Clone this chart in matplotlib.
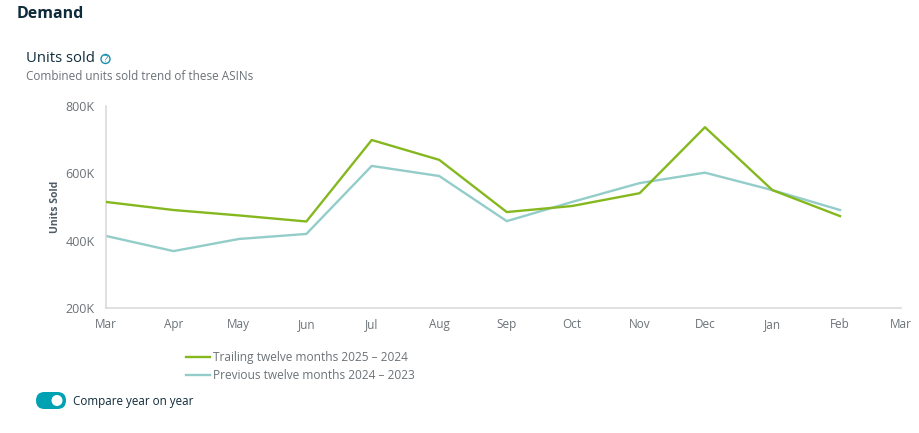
import matplotlib
matplotlib.use('Agg')
import matplotlib.pyplot as plt
import matplotlib.dates as mdates
from matplotlib.patches import Circle, FancyBboxPatch
import pandas as pd

plt.rcParams['font.family'] = ['Open Sans', 'DejaVu Sans']

W, H = 920, 433
green = '#85b81f'
teal = '#93cdc9'
grey = '#6b7277'
dark = '#0f2b3a'
toggle_color = '#00a1b3'

dates = pd.date_range('2024-03-01', periods=12, freq='MS')
trailing = [515, 491, 475, 457, 699, 640, 485, 503, 541, 737, 550, 473]
previous = [414, 369, 405, 420, 622, 592, 458, 515, 571, 602, 550, 491]
y_ticks = [200, 400, 600, 800]
y_labels = ['200K', '400K', '600K', '800K']

fig = plt.figure(figsize=(W / 100, H / 100), dpi=100)

# axes box in pixels: left 106, right 901, top 106, bottom 308
ax = fig.add_axes([106 / W, 1 - 308 / H, (901 - 106) / W, (308 - 106) / H])
ax.plot(dates, trailing, color=green, lw=1.7, label='Trailing twelve months 2025 – 2024', zorder=3)
ax.plot(dates, previous, color=teal, lw=1.7, label='Previous twelve months 2024 – 2023', zorder=2)

ax.set_xlim(pd.Timestamp('2024-03-01'), pd.Timestamp('2025-03-01'))
ax.set_ylim(200, 800)
ax.xaxis.set_major_locator(mdates.MonthLocator())
ax.xaxis.set_major_formatter(mdates.DateFormatter('%b'))
ax.set_yticks(y_ticks, y_labels)
ax.tick_params(length=0, labelcolor=grey)
ax.tick_params(axis='x', pad=7, labelsize=8.5)
ax.tick_params(axis='y', pad=8, labelsize=9)
ax.set_ylabel('Units Sold', fontsize=7.5, fontweight='bold', color='#4d5b66', labelpad=3)
for side in ['top', 'right']:
    ax.spines[side].set_visible(False)
for side in ['left', 'bottom']:
    ax.spines[side].set_color('#d5d7d9')
    ax.spines[side].set_linewidth(1.1)

ax.legend(loc='upper left', bbox_to_anchor=(186 / W, 1 - 351 / H), bbox_transform=fig.transFigure,
          frameon=False, fontsize=8.6, labelcolor=grey, handlelength=2.0, handletextpad=0.3,
          labelspacing=0.42, borderpad=0, borderaxespad=0)

# page furniture, positioned in pixels
page = fig.add_axes([0, 0, 1, 1], zorder=-1)
page.set_xlim(0, W)
page.set_ylim(H, 0)
page.axis('off')
page.text(17, 14, 'Demand', fontsize=11.5, fontweight='bold', color=dark, va='center')
page.text(26, 59, 'Units sold', fontsize=10.7, color=dark, va='center')
page.add_patch(Circle((105.5, 59), 4.5, fill=False, ec='#1a8fb0', lw=1))
page.text(105.5, 59, '?', fontsize=6.5, color='#1a8fb0', ha='center', va='center')
page.text(26, 77, 'Combined units sold trend of these ASINs', fontsize=8.5, color=grey, va='center')
page.add_patch(FancyBboxPatch((36, 392), 30, 17, boxstyle='round,pad=0,rounding_size=8.5',
                              fc=toggle_color, ec='none'))
page.add_patch(Circle((57, 400.5), 5.5, fc='white', ec='none'))
page.text(73, 401, 'Compare year on year', fontsize=8.4, color=dark, va='center')

fig.savefig('out.png', dpi=100)
